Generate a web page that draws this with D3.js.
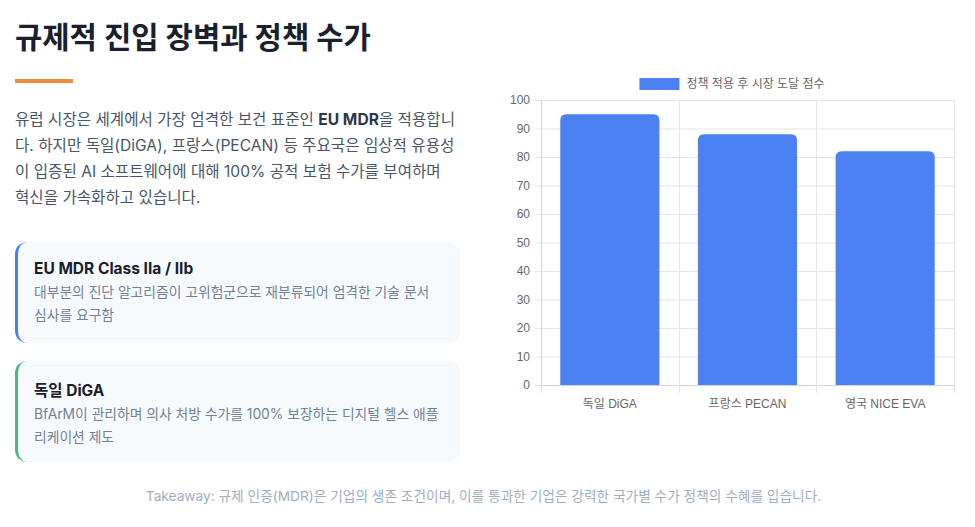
<!DOCTYPE html>
<html lang="ko">
<head>
<meta charset="utf-8">
<script src="https://cdn.jsdelivr.net/npm/d3@7"></script>
<style>
  body {
    margin: 0;
    width: 975px;
    height: 527px;
    background: #fff;
    font-family: Inter, "Noto Sans CJK KR", sans-serif;
    position: relative;
    overflow: hidden;
  }
  h1 {
    position: absolute;
    left: 15px;
    top: 14px;
    margin: 0;
    font-size: 29.7px;
    font-weight: 700;
    color: #1a202c;
  }
  .accent {
    position: absolute;
    left: 15px;
    top: 79px;
    width: 58px;
    height: 4px;
    background: #f08c3a;
  }
  .lead {
    position: absolute;
    left: 15px;
    top: 107px;
    width: 460px;
    margin: 0;
    font-size: 15.6px;
    line-height: 26px;
    color: #4a5568;
    white-space: nowrap;
  }
  .lead b { color: #2d3748; }
  .card {
    position: absolute;
    left: 15px;
    width: 445px;
    height: 101px;
    box-sizing: border-box;
    padding: 17px 16px 0 16px;
    background: #f7fafc;
    border-radius: 12px;
    border-left: 3px solid;
  }
  .card h3 {
    margin: 0 0 3px 0;
    font-size: 15.5px;
    font-weight: 700;
    color: #1a202c;
  }
  .card p {
    margin: 0;
    font-size: 13.8px;
    line-height: 23px;
    color: #718096;
  }
  .takeaway {
    position: absolute;
    left: 0;
    width: 967px;
    top: 485px;
    text-align: center;
    font-size: 13.7px;
    color: #a0aec0;
  }
  #chart {
    position: absolute;
    left: 0;
    top: 0;
  }
</style>
</head>
<body>
<h1>규제적 진입 장벽과 정책 수가</h1>
<div class="accent"></div>
<p class="lead">유럽 시장은 세계에서 가장 엄격한 보건 표준인 <b>EU MDR</b>을 적용합니<br>다. 하지만 독일(DiGA), 프랑스(PECAN) 등 주요국은 임상적 유용성<br>이 입증된 AI 소프트웨어에 대해 100% 공적 보험 수가를 부여하며<br>혁신을 가속화하고 있습니다.</p>
<div class="card" style="top:242px;border-left-color:#4a80f0">
  <h3>EU MDR Class IIa / IIb</h3>
  <p>대부분의 진단 알고리즘이 고위험군으로 재분류되어 엄격한 기술 문서 심사를 요구함</p>
</div>
<div class="card" style="top:361px;border-left-color:#48bb78">
  <h3>독일 DiGA</h3>
  <p>BfArM이 관리하며 의사 처방 수가를 100% 보장하는 디지털 헬스 애플리케이션 제도</p>
</div>
<div class="takeaway">Takeaway: 규제 인증(MDR)은 기업의 생존 조건이며, 이를 통과한 기업은 강력한 국가별 수가 정책의 수혜를 입습니다.</div>
<svg id="chart" width="975" height="527"></svg>
<script>
// 데이터
const categories = ["독일 DiGA", "프랑스 PECAN", "영국 NICE EVA"];
const scores = [95, 88, 82];
const seriesName = "정책 적용 후 시장 도달 점수";
const yTicks = [0, 10, 20, 30, 40, 50, 60, 70, 80, 90, 100];

const svg = d3.select("#chart");
const chartFont = '"Liberation Sans", Arial, "Noto Sans CJK KR", sans-serif';
const gridColor = "#e5e5e5";
const barColor = "#4b81f1";

// 플롯 영역
const plot = { left: 541, right: 954, top: 100, bottom: 385 };

const x = d3.scaleBand()
  .domain(categories)
  .range([plot.left, plot.right])
  .paddingInner(0)
  .paddingOuter(0);

const y = d3.scaleLinear()
  .domain([0, 100])
  .range([plot.bottom, plot.top]);

// 가로 그리드 + y 눈금
const yG = svg.append("g").attr("class", "y-axis");
yTicks.forEach(t => {
  yG.append("line")
    .attr("x1", plot.left - 6).attr("x2", plot.right)
    .attr("y1", y(t) + 0.5).attr("y2", y(t) + 0.5)
    .attr("stroke", t === 0 ? "#d4d4d4" : gridColor)
    .attr("stroke-width", 1);
  yG.append("text")
    .attr("x", plot.left - 11)
    .attr("y", y(t))
    .attr("dy", "0.35em")
    .attr("text-anchor", "end")
    .attr("fill", "#666")
    .style("font-family", chartFont)
    .style("font-size", "12px")
    .text(t);
});

// 세로 그리드 (카테고리 경계)
const bounds = categories.map(c => x(c)).concat([plot.right]);
svg.append("g").selectAll("line")
  .data(bounds)
  .enter().append("line")
  .attr("x1", d => Math.round(d) + 0.5).attr("x2", d => Math.round(d) + 0.5)
  .attr("y1", plot.top).attr("y2", plot.bottom + 8)
  .attr("stroke", gridColor);

// y 축 선
svg.append("line")
  .attr("x1", plot.left + 0.5).attr("x2", plot.left + 0.5)
  .attr("y1", plot.top).attr("y2", plot.bottom)
  .attr("stroke", "#d4d4d4");

// 막대 (윗부분만 둥글게)
const barW = x.bandwidth() * 0.72;
const r = 6;
function barPath(d, i) {
  const cx = x(categories[i]) + x.bandwidth() / 2;
  const x0 = cx - barW / 2, x1 = cx + barW / 2;
  const y0 = y(d), y1 = y(0);
  return `M${x0},${y1} L${x0},${y0 + r} Q${x0},${y0} ${x0 + r},${y0}
    L${x1 - r},${y0} Q${x1},${y0} ${x1},${y0 + r} L${x1},${y1} Z`;
}

svg.append("g").attr("class", "bars")
  .selectAll("path")
  .data(scores)
  .enter().append("path")
  .attr("d", barPath)
  .attr("fill", barColor);

// x 라벨
svg.append("g").selectAll("text")
  .data(categories)
  .enter().append("text")
  .attr("x", d => x(d) + x.bandwidth() / 2)
  .attr("y", 404)
  .attr("dy", "0.35em")
  .attr("text-anchor", "middle")
  .attr("fill", "#666")
  .style("font-family", chartFont)
  .style("font-size", "12px")
  .text(d => d);

// 범례
const legend = svg.append("g").attr("class", "legend");
const legendText = legend.append("text")
  .attr("y", 84)
  .attr("dy", "0.35em")
  .attr("fill", "#666")
  .style("font-family", chartFont)
  .style("font-size", "12px")
  .text(seriesName);
const tw = legendText.node().getComputedTextLength();
const boxW = 40, gap = 7;
const lx = 732 - (boxW + gap + tw) / 2;
legend.append("rect")
  .attr("x", lx).attr("y", 78)
  .attr("width", boxW).attr("height", 12)
  .attr("fill", barColor);
legendText.attr("x", lx + boxW + gap);
</script>
</body>
</html>
